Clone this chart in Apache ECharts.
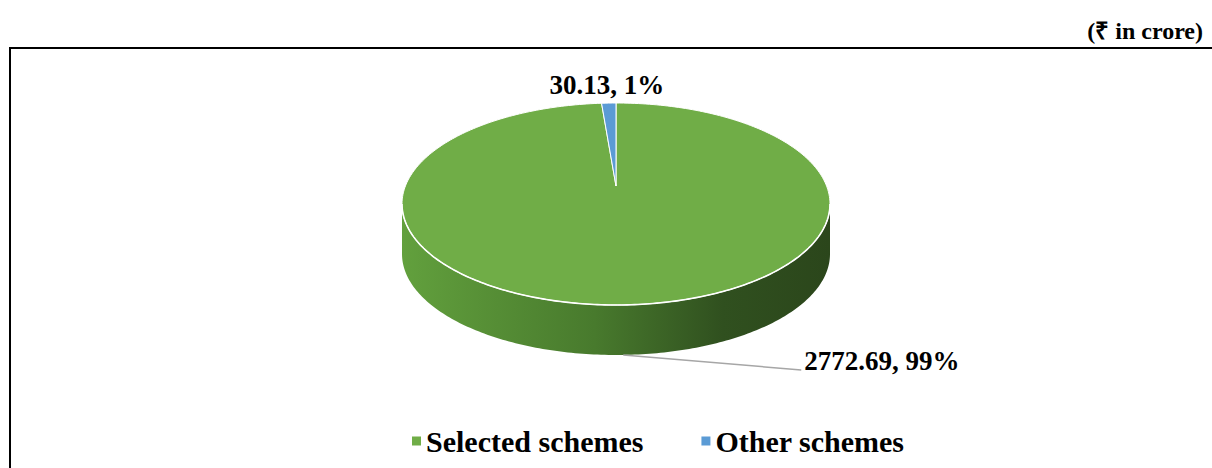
<!DOCTYPE html>
<html>
<head>
<meta charset="utf-8">
<script src="https://cdn.jsdelivr.net/npm/echarts@6/dist/echarts.min.js"></script>
<style>
  html, body { margin: 0; padding: 0; background: #fff; }
  #chart { width: 1212px; height: 468px; }
</style>
</head>
<body>
<div id="chart"></div>
<script>
// ---- data ----
const categories = ['Selected schemes', 'Other schemes'];
const values = [2772.69, 30.13];
const colors = ['#70AD47', '#5B9BD5'];
const unitLabel = '(\u20B9 in crore)';

// ---- derived ----
const total = values.reduce((a, b) => a + b, 0);
const starts = [];
let acc = 0;
values.forEach(v => { starts.push(acc); acc += v; });

const FONT = "'Liberation Serif', 'Times New Roman', serif";

// 3D pie geometry (layout style, not data)
const G = { cx: 616, cy: 204, rx: 214, ry: 101, depth: 50, apexDy: -18 };

function pt(t, dy) {
  return [G.cx + G.rx * Math.cos(t), G.cy + G.ry * Math.sin(t) + (dy || 0)];
}
function arcPts(a, b, dy, n) {
  const pts = [];
  const steps = Math.max(2, Math.ceil(Math.abs(b - a) / (Math.PI * 2) * (n || 360)));
  for (let i = 0; i <= steps; i++) {
    pts.push(pt(a + (b - a) * i / steps, dy));
  }
  return pts;
}

function makeRender(idx) {
  return function (params, api) {
    const v = api.value(0);
    const a0 = -Math.PI / 2 + 2 * Math.PI * starts[idx] / total;
    const a1 = a0 + 2 * Math.PI * v / total;
    const children = [];
    const apex = [G.cx, G.cy + G.apexDy];

    // side wall: visible front part (t in [0, PI])
    const ranges = [[0, Math.PI], [2 * Math.PI, 3 * Math.PI]];
    ranges.forEach(r => {
      const s = Math.max(a0, r[0]), e = Math.min(a1, r[1]);
      if (e > s) {
        const top = arcPts(s, e, 0);
        const bot = arcPts(e, s, G.depth);
        children.push({
          type: 'polygon',
          shape: { points: top.concat(bot) },
          style: {
            fill: {
              type: 'linear', x: 0, y: 0, x2: 1, y2: 0,
              colorStops: idx === 0 ? [
                { offset: 0, color: '#62A03D' },
                { offset: 0.45, color: '#487A2D' },
                { offset: 0.75, color: '#30501F' },
                { offset: 1, color: '#2B461B' }
              ] : [
                { offset: 0, color: '#4F86BA' },
                { offset: 1, color: '#2B4C6B' }
              ]
            },
            stroke: null
          },
          silent: true
        });
      }
    });

    // top face sector
    const topPts = [apex].concat(arcPts(a0, a1, 0));
    children.push({
      type: 'polygon',
      shape: { points: topPts },
      style: { fill: colors[idx], stroke: '#ffffff', lineWidth: 1, lineJoin: 'round' }
    });

    // white highlight along the front rim
    const rs = Math.max(a0, 0), re = Math.min(a1, Math.PI);
    if (re > rs) {
      children.push({
        type: 'polyline',
        shape: { points: arcPts(rs, re, 0) },
        style: { stroke: '#ffffff', lineWidth: 1.6, fill: null },
        silent: true
      });
    }

    // label
    const mid = (a0 + a1) / 2;
    const pct = Math.round(v / total * 100) + '%';
    const txt = v.toFixed(2) + ', ' + pct;
    const front = Math.sin(mid) > 0;
    if (front) {
      const p0 = pt(mid, G.depth);
      const p1 = [p0[0] + 178, p0[1] + 15];
      children.push({
        type: 'polyline',
        shape: { points: [p0, p1] },
        style: { stroke: '#A6A6A6', lineWidth: 1.5, fill: null },
        silent: true
      });
      children.push({
        type: 'text',
        style: {
          text: txt, x: p1[0] + 3, y: p1[1] - 9,
          fill: '#000', font: 'bold 27px ' + FONT,
          textAlign: 'left', textVerticalAlign: 'middle'
        }
      });
    } else {
      const p0 = pt(mid, 0);
      children.push({
        type: 'text',
        style: {
          text: txt, x: p0[0] - 2, y: p0[1] - 18,
          fill: '#000', font: 'bold 27px ' + FONT,
          textAlign: 'center', textVerticalAlign: 'middle'
        }
      });
    }
    return { type: 'group', children: children };
  };
}

const chart = echarts.init(document.getElementById('chart'), null, { renderer: 'svg' });

const series = categories.map((name, i) => ({
  type: 'custom',
  name: name,
  coordinateSystem: 'none',
  itemStyle: { color: colors[i] },
  data: [[values[i]]],
  renderItem: makeRender(i),
  animation: false
}));

chart.setOption({
  backgroundColor: '#ffffff',
  animation: false,
  title: {
    text: unitLabel,
    right: 4,
    top: 14,
    textStyle: { fontFamily: FONT, fontWeight: 'bold', fontSize: 24, color: '#000' }
  },
  legend: {
    data: categories,
    left: 407,
    top: 421,
    icon: 'rect',
    itemWidth: 9,
    itemHeight: 9,
    itemGap: 58,
    textStyle: { fontFamily: FONT, fontWeight: 'bold', fontSize: 30, color: '#000' }
  },
  graphic: [{
    type: 'rect',
    shape: { x: 10, y: 48, width: 1260, height: 500 },
    style: { fill: null, stroke: '#000', lineWidth: 2 },
    silent: true,
    z: -1
  }],
  series: series
});
</script>
</body>
</html>
